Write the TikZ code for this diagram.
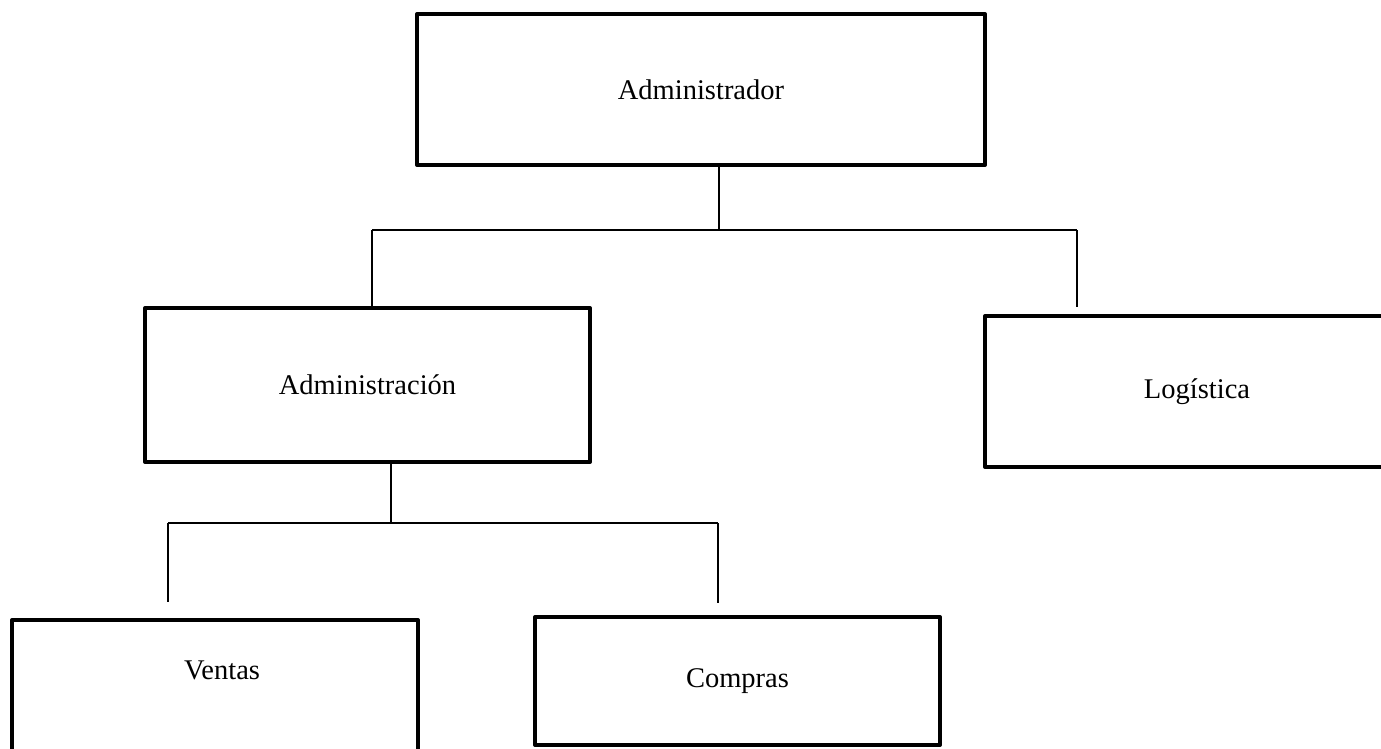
\documentclass[tikz,border=0pt]{standalone}
\usepackage{fontspec}
\setmainfont{Liberation Serif}
\begin{document}
\begin{tikzpicture}[x=1pt,y=-1pt,
  box/.style={draw=black, line width=4pt, line join=round, rectangle, inner sep=0pt, outer sep=0pt,
    font=\fontsize{28.5}{34}\selectfont},
  lbl/.style={inner sep=0pt, font=\fontsize{28.5}{34}\selectfont},
  conn/.style={draw=black, line width=1.3pt}]
\clip (0,0) rectangle (1381,749);
\fill[white] (0,0) rectangle (1381,749);
% boxes
\node[box, minimum width=568pt, minimum height=151pt] (adm) at (701,89.5) {Administrador};
\node[box, minimum width=445pt, minimum height=154pt] (admn) at (367.5,385) {\raisebox{-4pt}{Administración}};
\node[box, minimum width=424pt, minimum height=151pt] (log) at (1197,391.5) {Logística};
\node[box, minimum width=406pt, minimum height=200pt] (ven) at (215,720) {};
\node[lbl] (vent) at (222,670) {Ventas};
\node[box, minimum width=405pt, minimum height=128pt] (com) at (737.5,681) {Compras};
% junctions and free ends
\coordinate (j1) at (719,230);
\coordinate (l1) at (372,230);
\coordinate (r1) at (1077,230);
\coordinate (r1e) at (1077,307);
\coordinate (j2) at (391,523);
\coordinate (l2) at (168,523);
\coordinate (l2e) at (168,602);
\coordinate (r2) at (718,523);
\coordinate (r2e) at (718,603);
% connectors
\draw[conn] (adm.south -| j1) -- (j1);
\draw[conn] (l1) -- (r1);
\draw[conn] (l1) -- (admn.north -| l1);
\draw[conn] (r1) -- (r1e);
\draw[conn] (admn.south -| j2) -- (j2);
\draw[conn] (l2) -- (r2);
\draw[conn] (l2) -- (l2e);
\draw[conn] (r2) -- (r2e);
\end{tikzpicture}
\end{document}
